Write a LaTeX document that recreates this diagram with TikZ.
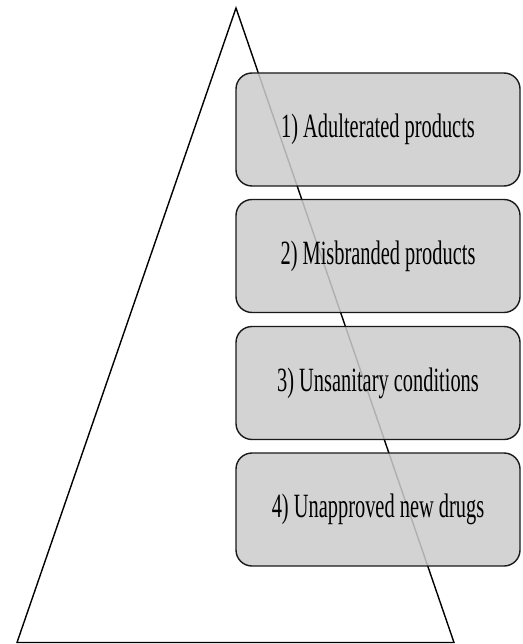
\documentclass[tikz,border=0pt]{standalone}
\usepackage{fontspec}
\setmainfont{Liberation Serif}
\begin{document}
\begin{tikzpicture}[x=1pt,y=-1pt,
  tier/.style={draw=black!90, line width=1.4pt, rounded corners=16pt,
    fill=black!20, fill opacity=0.86, text opacity=1,
    minimum width=284pt, minimum height=113pt, inner sep=0pt,
    font=\fontsize{34}{37}\selectfont, text=black},
  edge/.style={line width=1.4pt, line join=miter}]
\useasboundingbox (0,0) rectangle (522,644);
\coordinate (apex) at (236,8);
\coordinate (bl) at (17,642.5);
\coordinate (br) at (454,642.5);
\draw[edge] (bl) -- (apex) -- (br) -- cycle;
\node[tier] (t1) at (378,129.5) {\scalebox{0.6}[1]{1) Adulterated products}};
\node[tier] (t2) at (378,256) {\scalebox{0.6}[1]{2) Misbranded products}};
\node[tier] (t3) at (378,383) {\scalebox{0.6}[1]{3) Unsanitary conditions}};
\node[tier] (t4) at (378,509.5) {\scalebox{0.6}[1]{4) Unapproved new drugs}};
\end{tikzpicture}
\end{document}
